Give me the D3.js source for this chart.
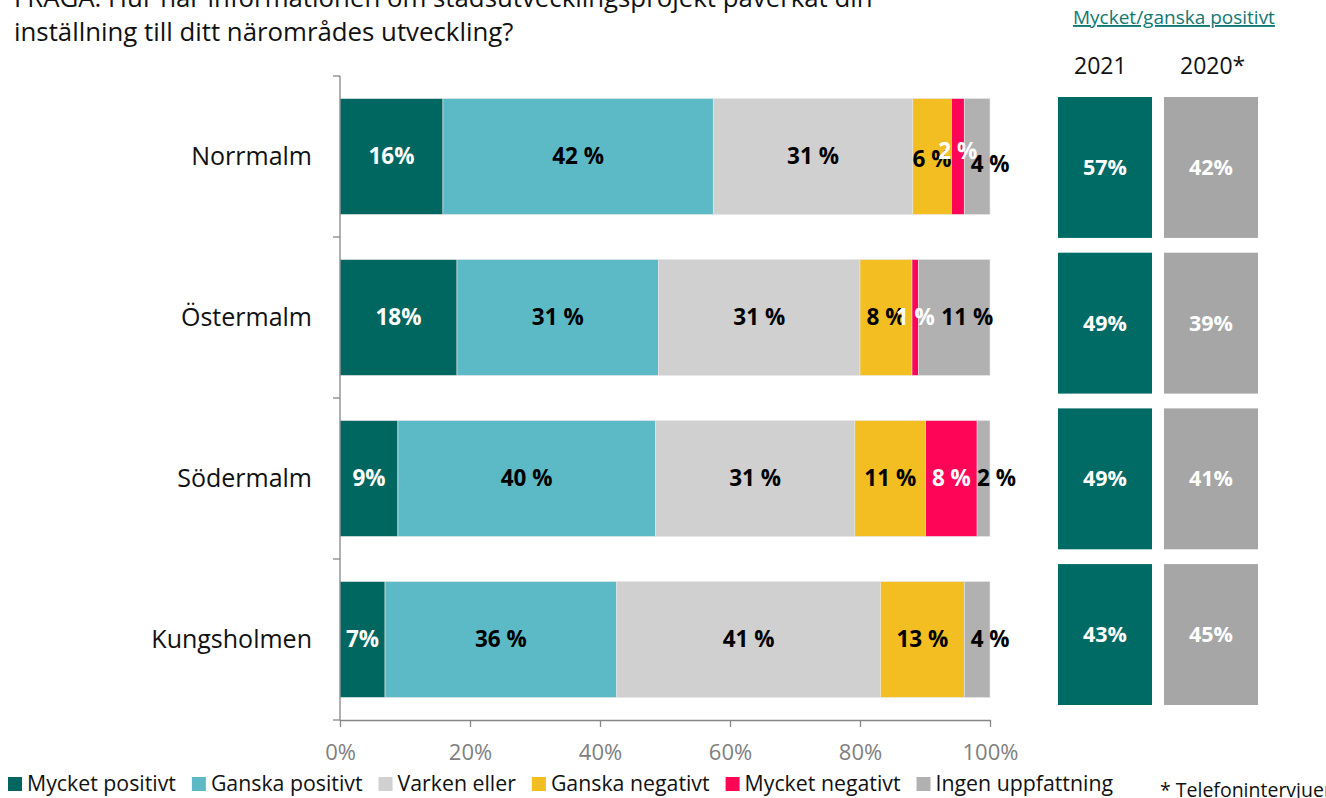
<!DOCTYPE html>
<html>
<head>
<meta charset="utf-8">
<script src="https://cdn.jsdelivr.net/npm/d3@7"></script>
<style>
  body { margin: 0; background: #fff; }
  svg { display: block; font-family: "Open Sans", sans-serif; }
</style>
</head>
<body>
<script>
    // stadsdelar
    const districts = ["Norrmalm", "Östermalm", "Södermalm", "Kungsholmen"];
    const seriesNames = ["Mycket positivt", "Ganska positivt", "Varken eller", "Ganska negativt", "Mycket negativt", "Ingen uppfattning"];
    const seriesColors = ["#006660", "#5bbac6", "#d0d0d0", "#f2be22", "#ff0558", "#b1b1b1"];
    const labelColors = ["#fff", "#000", "#000", "#000", "#fff", "#000"];

    // andel i procent per stadsdel (rad) och svar (kolumn)
    const shares = [
        [16, 42, 31, 6, 2, 4],
        [18, 31, 31, 8, 1, 11],
        [9, 40, 31, 11, 8, 2],
        [7, 36, 41, 13, 0, 4]
    ];
    const positive2021 = [57, 49, 49, 43];
    const positive2020 = [42, 39, 41, 45];
    const years = ["2021", "2020*"];
    const xTicks = [0, 0.2, 0.4, 0.6, 0.8, 1];

    const width = 1326, height = 798;
    const svg = d3.select("body").append("svg")
        .attr("width", width)
        .attr("height", height);

    // title (top line cut off in the original)
    svg.append("text")
        .attr("x", 14).attr("y", 7)
        .attr("font-size", 25.8).attr("fill", "#111")
        .text("FRÅGA: Hur har informationen om stadsutvecklingsprojekt påverkat din");
    svg.append("text")
        .attr("x", 14).attr("y", 41)
        .attr("font-size", 25.8).attr("fill", "#111")
        .text("inställning till ditt närområdes utveckling?");

    // scales
    const x = d3.scaleLinear().domain([0, 1]).range([340, 990]);
    const y = d3.scaleBand().domain(districts).range([76, 720])
        .paddingInner(0.28).paddingOuter(0.14);

    // stack, normalised to 100 %
    const rows = districts.map((d, i) => {
        const o = { district: d };
        seriesNames.forEach((s, j) => o[s] = shares[i][j]);
        return o;
    });
    const stacked = d3.stack().keys(seriesNames).offset(d3.stackOffsetExpand)(rows);

    const g = svg.append("g");
    stacked.forEach((layer, j) => {
        const lg = g.append("g");
        lg.selectAll("rect")
            .data(layer)
            .join("rect")
            .attr("x", d => x(d[0]))
            .attr("y", d => y(d.data.district))
            .attr("width", d => x(d[1]) - x(d[0]))
            .attr("height", y.bandwidth())
            .attr("fill", seriesColors[j])
            .attr("stroke", "#e6e6e6")
            .attr("stroke-width", 0.6);
    });

    // labels
    stacked.forEach((layer, j) => {
        layer.forEach((d, i) => {
            const v = d.data[seriesNames[j]];
            if (!v) return;
            let cx = (x(d[0]) + x(d[1])) / 2;
            let dy = 0;
            // last series labels sit a bit to the right, like in the Excel original
            if (j === 5) cx += 13;
            // Excel nudged a couple of crowded labels
            if (i === 0 && j === 3) dy = 3;
            if (i === 0 && j === 4) dy = -5;
            if (i === 0 && j === 5) dy = 8;
            g.append("text")
                .attr("x", cx)
                .attr("y", y(d.data.district) + y.bandwidth() / 2 + dy)
                .attr("dy", "0.35em")
                .attr("text-anchor", "middle")
                .attr("font-size", 22.5)
                .attr("font-weight", "bold")
                .attr("fill", labelColors[j])
                .text(j === 0 ? v + "%" : v + " %");
        });
    });

    // left axis with category dividers
    const axisColor = "#868686";
    svg.append("line")
        .attr("x1", 340).attr("x2", 340)
        .attr("y1", 76).attr("y2", 720)
        .attr("stroke", axisColor).attr("stroke-width", 1.3);
    const edges = [y.range()[0]]
        .concat(districts.slice(1).map(d => y(d) - y.step() * y.paddingInner() / 2))
        .concat([y.range()[1]]);
    svg.selectAll(".ytick")
        .data(edges)
        .join("line")
        .attr("x1", 333).attr("x2", 340)
        .attr("y1", d => d).attr("y2", d => d)
        .attr("stroke", axisColor).attr("stroke-width", 1.3);

    svg.selectAll(".cat")
        .data(districts)
        .join("text")
        .attr("x", 312)
        .attr("y", d => y(d) + y.bandwidth() / 2)
        .attr("dy", "0.35em")
        .attr("text-anchor", "end")
        .attr("font-size", 25)
        .attr("fill", "#111")
        .text(d => d);

    // bottom axis
    const xAxis = svg.append("g")
        .attr("transform", "translate(0,720)")
        .call(d3.axisBottom(x).tickValues(xTicks).tickFormat(d3.format(".0%")).tickSize(7).tickSizeOuter(0).tickPadding(17));
    xAxis.select(".domain").attr("stroke", axisColor).attr("stroke-width", 1.3);
    xAxis.selectAll(".tick line").attr("stroke", axisColor).attr("stroke-width", 1.3);
    xAxis.selectAll(".tick text")
        .attr("fill", "#7f7f7f")
        .attr("font-size", 22)
        .attr("font-family", "'Open Sans', sans-serif");

    // right panel: Mycket/ganska positivt
    const yr = d3.scaleBand().domain(districts).range([97, 705]).paddingInner(0.095);
    const xr = d3.scaleBand().domain(years).range([1058, 1258]).paddingInner(0.113);

    svg.append("text")
        .attr("x", 1073).attr("y", 24)
        .attr("font-size", 19)
        .attr("fill", "#127872")
        .attr("text-decoration", "underline")
        .text("Mycket/ganska positivt");

    svg.selectAll(".year")
        .data(years)
        .join("text")
        .attr("x", d => xr(d) + 16)
        .attr("y", 74)
        .attr("font-size", 23)
        .attr("fill", "#111")
        .text(d => d);

    const boxData = [];
    districts.forEach((d, i) => {
        boxData.push({ district: d, year: years[0], v: positive2021[i], c: "#006a64" });
        boxData.push({ district: d, year: years[1], v: positive2020[i], c: "#a6a6a6" });
    });
    svg.selectAll(".box")
        .data(boxData)
        .join("rect")
        .attr("x", d => xr(d.year))
        .attr("y", d => yr(d.district))
        .attr("width", xr.bandwidth())
        .attr("height", yr.bandwidth())
        .attr("fill", d => d.c);
    svg.selectAll(".boxlabel")
        .data(boxData)
        .join("text")
        .attr("x", d => xr(d.year) + xr.bandwidth() / 2)
        .attr("y", d => yr(d.district) + yr.bandwidth() / 2)
        .attr("dy", "0.35em")
        .attr("text-anchor", "middle")
        .attr("font-size", 21.5)
        .attr("font-weight", "bold")
        .attr("fill", "#fff")
        .text(d => d.v + "%");

    // legend
    const legend = svg.append("g");
    let lx = 8;
    seriesNames.forEach((s, j) => {
        legend.append("rect")
            .attr("x", lx).attr("y", 777)
            .attr("width", 14).attr("height", 14)
            .attr("fill", seriesColors[j]);
        const t = legend.append("text")
            .attr("x", lx + 19).attr("y", 784)
            .attr("dy", "0.35em")
            .attr("font-size", 21.3)
            .attr("fill", "#111")
            .text(s);
        lx += 19 + t.node().getComputedTextLength() + 16;
    });

    svg.append("text")
        .attr("x", 1160).attr("y", 797)
        .attr("font-size", 19.5)
        .attr("fill", "#111")
        .text("* Telefonintervjuer");
</script>
</body>
</html>
